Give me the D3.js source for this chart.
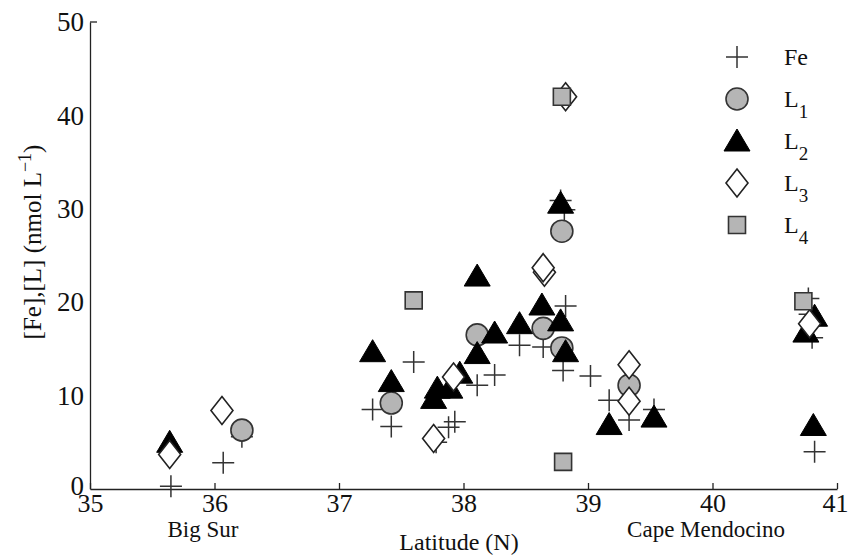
<!DOCTYPE html>
<html><head><meta charset="utf-8">
<script src="https://cdn.jsdelivr.net/npm/d3@7"></script>
<style>body{margin:0;background:#fff}svg{display:block}text{font-family:"Liberation Serif","Times New Roman",serif;fill:#111}</style>
</head><body>
<svg id="c" width="849" height="555"></svg>
<script>
// Fe (plus)
const feLat = [35.65,36.07,36.22,37.27,37.42,37.60,37.78,37.88,37.93,38.11,38.25,38.45,38.64,38.78,38.81,38.82,38.80,39.02,39.17,39.33,39.53,40.77,40.78,40.80,40.82];
const feVal = [0.3,2.8,5.6,8.5,6.7,13.6,5.0,6.6,7.2,11.1,12.2,15.4,15.2,30.9,29.9,19.6,12.7,12.1,9.5,7.4,8.5,20.4,18.7,16.2,4.0];
// L1 (grey circle)
const l1Lat = [36.22,37.42,38.11,38.64,38.79,38.79,39.33];
const l1Val = [6.3,9.2,16.5,17.2,27.6,15.1,11.1];
// L2 (black triangle)
const l2Lat = [35.64,37.27,37.42,37.97,37.76,37.79,37.89,38.11,38.11,38.25,38.45,38.63,38.78,38.78,38.82,39.17,39.53,40.82,40.75,40.81];
const l2Val = [5.0,14.7,11.5,12.4,9.7,10.8,10.8,22.8,14.5,16.7,17.7,19.7,30.6,18.0,14.7,6.9,7.7,18.5,16.8,6.8];
// L3 (open diamond)
const l3Lat = [35.64,36.06,37.76,37.92,38.65,38.64,38.82,39.33,39.33,40.78];
const l3Val = [3.7,8.4,5.4,12.0,23.2,23.7,42.0,13.3,9.4,17.7];
// L4 (grey square)
const l4Lat = [37.60,38.79,38.80,40.73];
const l4Val = [20.2,42.0,2.9,20.1];

const xTicks = [35,36,37,38,39,40,41];
const yTicks = [0,10,20,30,40,50];
const legendNames = ["Fe","L1","L2","L3","L4"];

const svg = d3.select("#c");
const x = d3.scaleLinear().domain([35,41]).range([90,837]);
const y = d3.scaleLinear().domain([0,50]).range([489,22]);

const shapes = {
  plus: "M-11,0H11M0,-11V11",
  circle: "M11,0A11,11 0 1,1 -11,0A11,11 0 1,1 11,0Z",
  tri: "M0,-12L13,10L-13,10Z",
  diamond: "M0,-14L11,0L0,14L-11,0Z",
  square: "M-8.5,-8.5H8.5V8.5H-8.5Z"
};
const styles = {
  plus: {fill:"none", stroke:"#333", sw:1.5},
  circle: {fill:"#b5b5b5", stroke:"#333", sw:1.6},
  tri: {fill:"#000", stroke:"#000", sw:1},
  diamond: {fill:"#fff", stroke:"#222", sw:1.6},
  square: {fill:"#b5b5b5", stroke:"#333", sw:1.6}
};
const series = [
  {key:"plus", lat:feLat, val:feVal},
  {key:"circle", lat:l1Lat, val:l1Val},
  {key:"tri", lat:l2Lat, val:l2Val},
  {key:"diamond", lat:l3Lat, val:l3Val},
  {key:"square", lat:l4Lat, val:l4Val}
];

// axes
const xAxis = d3.axisBottom(x).tickValues(xTicks).tickFormat(d3.format("d")).tickSize(-6).tickSizeOuter(0).tickPadding(5);
const gx = svg.append("g").attr("transform","translate(0,489)").call(xAxis);
gx.select(".domain").attr("stroke","#222").attr("stroke-width",1.3);
gx.selectAll(".tick line").attr("stroke","#222").attr("stroke-width",1.3);
gx.selectAll(".tick text").style("font-size","26px").attr("font-family",null).attr("fill","#111")
  .attr("dx", d => d === 41 ? -2 : 0);

const yAxis = d3.axisLeft(y).tickValues(yTicks).tickFormat(d3.format("d")).tickSize(0).tickSizeOuter(0).tickPadding(6);
const gy = svg.append("g").attr("transform","translate(90,0)").call(yAxis);
gy.select(".domain").attr("stroke","#222").attr("stroke-width",1.3);
gy.selectAll(".tick text").style("font-size","27px").attr("font-family",null).attr("fill","#111")
  .attr("dy", d => d === 0 ? "0.2em" : "0.32em");
svg.append("line").attr("x1",90).attr("x2",97).attr("y1",y(50)).attr("y2",y(50)).attr("stroke","#222").attr("stroke-width",1.3);

// points
series.forEach(s => {
  const st = styles[s.key];
  svg.append("g").selectAll("path").data(s.lat.map((l,i)=>({lat:l,v:s.val[i]}))).join("path")
    .attr("d", shapes[s.key])
    .attr("transform", d => `translate(${x(d.lat)},${y(d.v)})`)
    .attr("fill", st.fill).attr("stroke", st.stroke).attr("stroke-width", st.sw);
});

// legend
const lg = svg.append("g");
legendNames.forEach((n,i) => {
  const s = series[i], st = styles[s.key];
  const yy = 57 + i*42;
  lg.append("path").attr("d", shapes[s.key]).attr("transform",`translate(737,${yy})`)
    .attr("fill", st.fill).attr("stroke", st.stroke).attr("stroke-width", st.sw);
  const t = lg.append("text").attr("x",784).attr("y",yy+8).style("font-size","24px");
  if (n === "Fe") t.text("Fe");
  else {
    t.append("tspan").text("L");
    t.append("tspan").attr("dy",11).style("font-size","19px").text(n.slice(1));
  }
});

// labels
svg.append("text").attr("x",203).attr("y",537).attr("text-anchor","middle").style("font-size","23px").text("Big Sur");
svg.append("text").attr("x",706).attr("y",537).attr("text-anchor","middle").style("font-size","23px").text("Cape Mendocino");
svg.append("text").attr("x",459).attr("y",550).attr("text-anchor","middle").style("font-size","24px").text("Latitude (N)");
const yl = svg.append("text").attr("transform","translate(41,242) rotate(-90)").attr("text-anchor","middle").style("font-size","25px");
yl.append("tspan").text("[Fe],[L] (nmol L");
yl.append("tspan").attr("dy",-10).style("font-size","18px").text("\u22121");
yl.append("tspan").attr("dy",10).text(")");
</script>
</body></html>
